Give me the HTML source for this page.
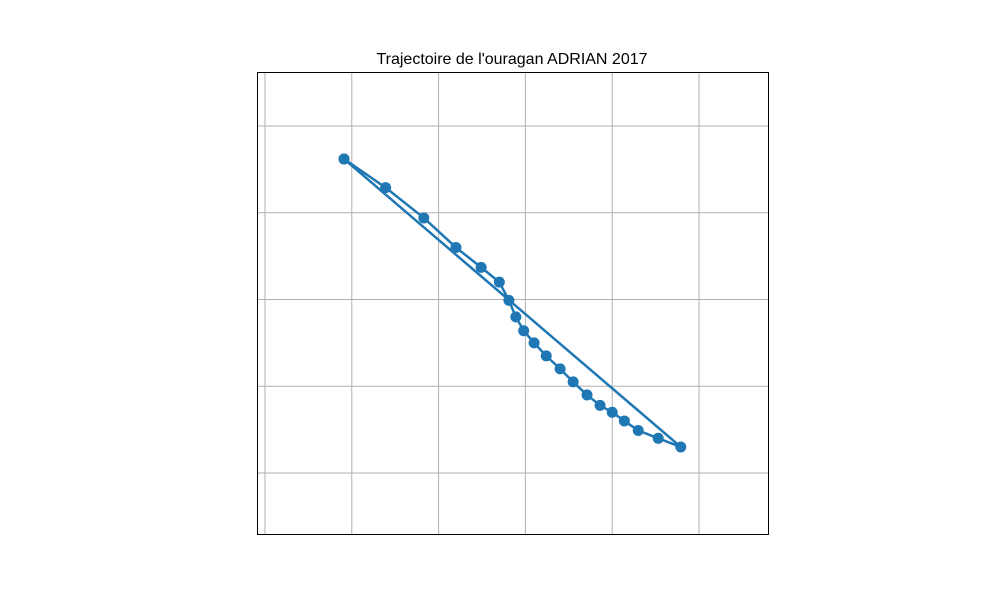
<!DOCTYPE html>
<html><head><meta charset="utf-8"><style>body{margin:0;background:#fff}svg{display:block}</style></head>
<body>
<svg id="c" width="1000" height="600" font-family="Liberation Sans, DejaVu Sans, sans-serif">
<text x="512" y="64" text-anchor="middle" font-size="16">Trajectoire de l'ouragan ADRIAN 2017</text>
<g id="grid"></g>
<g id="track"></g>
<rect x="257.5" y="72.5" width="511" height="462" fill="none" stroke="#000" stroke-width="1"/>
</svg>
<script>
const lonTicks=[-106,-105,-104,-103,-102,-101];
const latTicks=[9,10,11,12,13];
const trackLon=[-105.09,-104.61,-104.17,-103.80,-103.51,-103.30,-103.19,-103.11,-103.02,-102.90,-102.76,-102.60,-102.45,-102.29,-102.14,-102.00,-101.86,-101.70,-101.47,-101.21,-105.09];
const trackLat=[12.62,12.29,11.94,11.60,11.37,11.20,10.99,10.80,10.64,10.50,10.35,10.20,10.05,9.90,9.78,9.70,9.60,9.49,9.40,9.30,12.62];
const sx=v=>265+(v+106)*86.8;
const sy=v=>473-(v-9)*86.75;
const NS="http://www.w3.org/2000/svg";
const g=document.getElementById('grid'),t=document.getElementById('track');
function mk(tag,a,p){const e=document.createElementNS(NS,tag);for(const k in a)e.setAttribute(k,a[k]);p.appendChild(e);return e;}
lonTicks.forEach(v=>{const e=mk('line',{x1:sx(v),x2:sx(v),y1:72,y2:534,stroke:'#b0b0b0','stroke-width':1},g);

});
latTicks.forEach(v=>{const e=mk('line',{x1:257,x2:768,y1:sy(v),y2:sy(v),stroke:'#b0b0b0','stroke-width':1},g);

});
const pts=trackLon.map((v,i)=>sx(v)+','+sy(trackLat[i])).join(' ');
const pl=mk('polyline',{points:pts,fill:'none',stroke:'#1f77b4','stroke-width':2.5,'stroke-linejoin':'round'},t);


trackLon.forEach((v,i)=>{const c=mk('circle',{cx:sx(v),cy:sy(trackLat[i]),r:5.5,fill:'#1f77b4'},t);

});
</script>
</body></html>
